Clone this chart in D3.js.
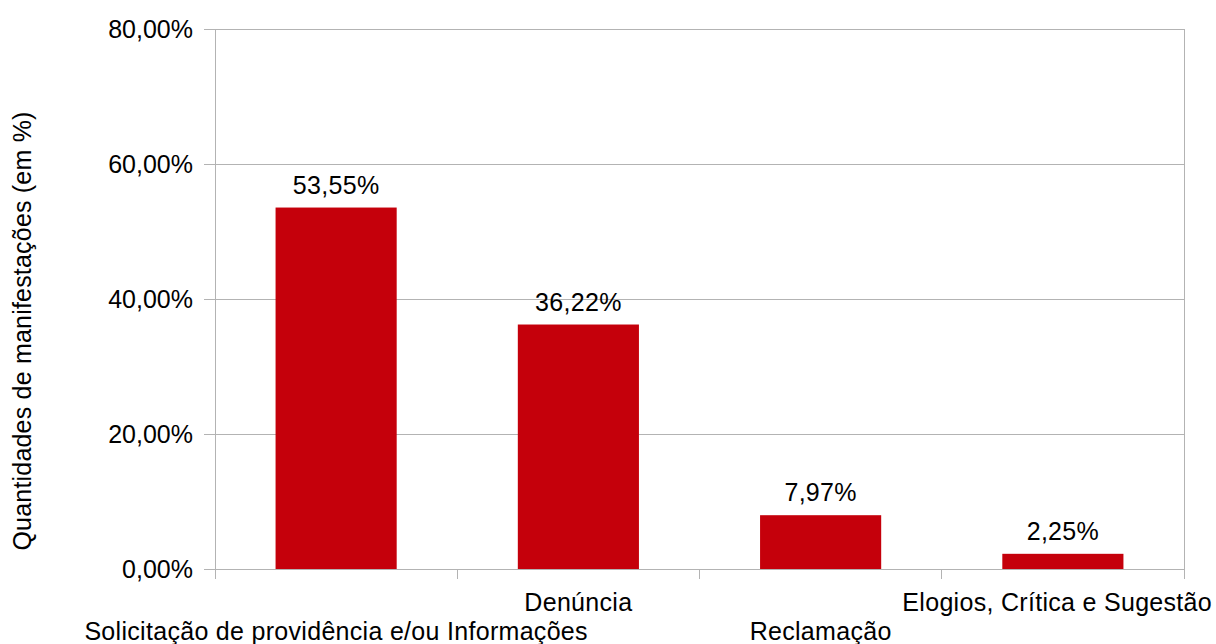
<!DOCTYPE html>
<html><head><meta charset="utf-8">
<script src="https://cdn.jsdelivr.net/npm/d3@7"></script>
<style>body{margin:0;background:#fff}svg{display:block}text{font-family:"Liberation Sans",Arial,sans-serif;fill:#000}</style>
</head><body>
<svg id="c" width="1216" height="644"></svg>
<script>
const categories = ["Solicitação de providência e/ou Informações","Denúncia","Reclamação","Elogios, Crítica e Sugestão"];
const values = [53.55, 36.22, 7.97, 2.25];
const valueLabels = ["53,55%","36,22%","7,97%","2,25%"];
const yTicks = [0,20,40,60,80];
const yTickLabels = ["0,00%","20,00%","40,00%","60,00%","80,00%"];
const yTitle = "Quantidades de manifestações (em %)";

const svg = d3.select("#c");
const L=215, R=1184, T=29, B=569, FS=25;
const x = d3.scaleBand().domain(categories).range([L,R]).paddingInner(0).paddingOuter(0);
const y = d3.scaleLinear().domain([0,80]).range([B,T]);
const grid="#b3b3b3";

svg.append("g").selectAll("line").data(yTicks).join("line")
  .attr("x1",L-11).attr("x2",R).attr("y1",d=>y(d)).attr("y2",d=>y(d))
  .attr("stroke",grid).attr("stroke-width",1).attr("shape-rendering","crispEdges");
[L,R].forEach(xx=>svg.append("line").attr("x1",xx).attr("x2",xx).attr("y1",T).attr("y2",B+10)
  .attr("stroke",grid).attr("shape-rendering","crispEdges"));
const bounds = categories.map(c=>x(c)).concat([R]);
svg.append("g").selectAll("line").data(bounds).join("line")
  .attr("x1",d=>d).attr("x2",d=>d).attr("y1",B).attr("y2",B+10)
  .attr("stroke",grid).attr("shape-rendering","crispEdges");

svg.append("g").selectAll("text").data(yTicks).join("text")
  .attr("x",193).attr("y",d=>y(d)).attr("dy","0.36em").attr("text-anchor","end")
  .style("font-size",FS+"px").text((d,i)=>yTickLabels[i]);

const bw = x.bandwidth()/2;
svg.append("g").selectAll("rect").data(values).join("rect")
  .attr("x",(d,i)=>x(categories[i])+x.bandwidth()/4).attr("width",bw)
  .attr("y",d=>y(d)).attr("height",d=>y(0)-y(d)).attr("fill","#c5000b");

svg.append("g").selectAll("text").data(values).join("text")
  .attr("x",(d,i)=>x(categories[i])+x.bandwidth()/2).attr("y",d=>y(d)-14)
  .attr("text-anchor","middle").style("font-size",FS+"px").style("letter-spacing","0.3px").text((d,i)=>valueLabels[i]);

const cl = svg.append("g").selectAll("text").data(categories).join("text")
  .attr("x",d=>x(d)+x.bandwidth()/2).attr("y",(d,i)=>i%2===0?640:611)
  .attr("text-anchor","middle").style("font-size",FS+"px").style("letter-spacing","0.3px").text(d=>d);
cl.each(function(){
  const bb=this.getBBox();
  if(bb.x+bb.width>1212){ d3.select(this).attr("x",+d3.select(this).attr("x")-(bb.x+bb.width-1212)); }
});

svg.append("text").attr("transform","translate(31,331) rotate(-90)")
  .attr("text-anchor","middle").style("font-size",FS+"px").style("letter-spacing","0.2px").text(yTitle);
</script>
</body></html>
